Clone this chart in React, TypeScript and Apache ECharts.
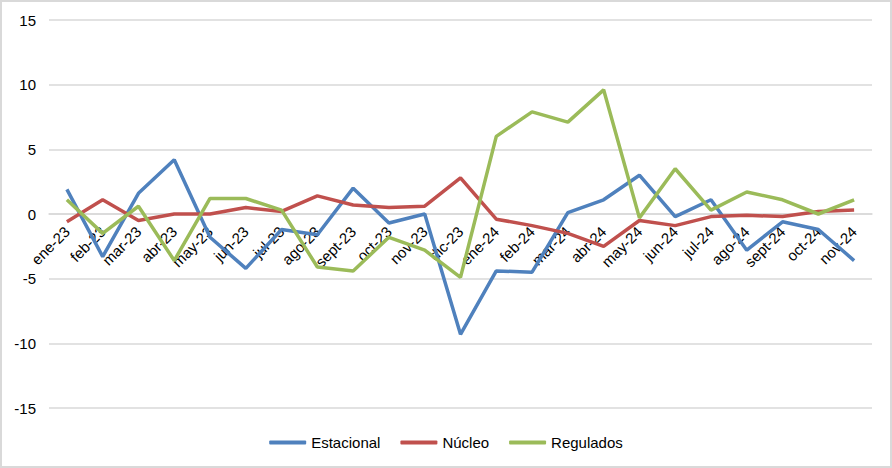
import React, { useEffect, useRef } from "react";
import * as echarts from "echarts";

const categories = [
  "ene-23", "feb-23", "mar-23", "abr-23", "may-23", "jun-23", "jul-23", "ago-23",
  "sept-23", "oct-23", "nov-23", "dic-23", "ene-24", "feb-24", "mar-24", "abr-24",
  "may-24", "jun-24", "jul-24", "ago-24", "sept-24", "oct-24", "nov-24",
];

const estacional = [1.9, -3.3, 1.6, 4.2, -1.8, -4.2, -1.2, -1.6, 2.0, -0.7, 0.0, -9.3,
  -4.4, -4.5, 0.1, 1.1, 3.0, -0.2, 1.1, -2.8, -0.6, -1.2, -3.6];

const nucleo = [-0.6, 1.1, -0.5, 0.0, 0.0, 0.5, 0.2, 1.4, 0.7, 0.5, 0.6, 2.8,
  -0.4, -0.9, -1.5, -2.5, -0.5, -0.9, -0.2, -0.1, -0.2, 0.2, 0.3];

const regulados = [1.1, -1.5, 0.6, -3.6, 1.2, 1.2, 0.3, -4.1, -4.4, -1.8, -2.8, -4.9,
  6.0, 7.9, 7.1, 9.6, -0.3, 3.5, 0.3, 1.7, 1.1, 0.0, 1.1];

const yTicks = { min: -15, max: 15, interval: 5 };

const seriesNames = ["Estacional", "Núcleo", "Regulados"];
const seriesColors = ["#4F81BD", "#C0504D", "#9BBB59"];

const W = 892;
const H = 468;
const GRID = { left: 49, right: 20, top: 20, bottom: 60 };

export default function App() {
  const ref = useRef<HTMLDivElement>(null);

  useEffect(() => {
    document.body.style.margin = "0";
    if (!ref.current) return;
    const chart = echarts.init(ref.current, undefined, { renderer: "svg" });
    const font = "'Liberation Sans', Arial, sans-serif";
    const data = [estacional, nucleo, regulados];
    const plotH = H - GRID.top - GRID.bottom;
    const zeroFromBottom = (plotH * (0 - yTicks.min)) / (yTicks.max - yTicks.min);
    chart.setOption({
      animation: false,
      backgroundColor: "#ffffff",
      grid: { ...GRID, containLabel: false },
      legend: {
        top: 430,
        left: "center",
        icon: "roundRect",
        itemWidth: 37,
        itemHeight: 4,
        itemGap: 20,
        textStyle: { fontFamily: font, fontSize: 15, color: "#000" },
        data: seriesNames,
      },
      xAxis: {
        type: "category",
        data: categories,
        boundaryGap: true,
        offset: -zeroFromBottom,
        axisLine: { show: true, onZero: false, lineStyle: { color: "#d9d9d9", width: 1.5 } },
        axisTick: { show: false },
        axisLabel: {
          rotate: 45,
          interval: 0,
          margin: 15,
          fontFamily: font,
          fontSize: 15,
          color: "#000",
        },
      },
      yAxis: {
        type: "value",
        ...yTicks,
        axisLine: { show: false },
        axisTick: { show: false },
        splitLine: { lineStyle: { color: "#d9d9d9", width: 1.5 } },
        axisLabel: { fontFamily: font, fontSize: 15, color: "#000", margin: 13 },
      },
      series: seriesNames.map((name, i) => ({
        name,
        type: "line",
        data: data[i],
        symbol: "none",
        smooth: false,
        lineStyle: { color: seriesColors[i], width: 3.5 },
        itemStyle: { color: seriesColors[i] },
      })),
    });
    return () => chart.dispose();
  }, []);

  return (
    <div style={{ position: "absolute", left: 0, top: 0, width: W, height: H, background: "#fff" }}>
      <div ref={ref} style={{ position: "absolute", left: 0, top: 0, width: W, height: H }} />
      <div
        style={{
          position: "absolute",
          left: 0,
          top: 0,
          width: W,
          height: H,
          border: "2px solid #d9d9d9",
          boxSizing: "border-box",
          pointerEvents: "none",
        }}
      />
    </div>
  );
}
